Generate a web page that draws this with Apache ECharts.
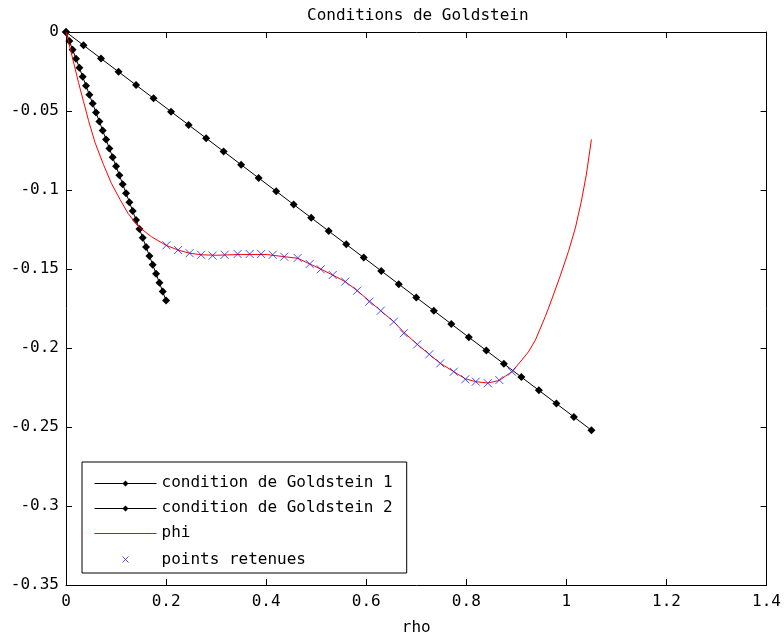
<!DOCTYPE html>
<html>
<head>
<meta charset="utf-8">
<script src="https://cdn.jsdelivr.net/npm/echarts@6/dist/echarts.min.js"></script>
<style>html,body{margin:0;padding:0;background:#fff}#c{width:784px;height:641px}</style>
</head>
<body>
<div id="c"></div>
<script>
var xTicks = [0, 0.2, 0.4, 0.6, 0.8, 1, 1.2, 1.4];
var yTicks = [-0.35, -0.3, -0.25, -0.2, -0.15, -0.1, -0.05, 0];

var g1X = [0, .0067, .0133, .02, .0267, .0333, .04, .0467, .0533, .06, .0667, .0733, .08, .0867, .0933, .1, .1067, .1133, .12, .1267, .1333, .14, .1467, .1533, .16, .1667, .1733, .18, .1867, .1933, .2];
var g1Y = [0, -.0057, -.0113, -.017, -.0227, -.0283, -.034, -.0397, -.0453, -.051, -.0567, -.0623, -.068, -.0737, -.0793, -.085, -.0907, -.0963, -.102, -.1077, -.1133, -.119, -.1247, -.1303, -.136, -.1417, -.1473, -.153, -.1587, -.1643, -.17];

var g2X = [0, .035, .07, .105, .14, .175, .21, .245, .28, .315, .35, .385, .42, .455, .49, .525, .56, .595, .63, .665, .7, .735, .77, .805, .84, .875, .91, .945, .98, 1.015, 1.05];
var g2Y = [0, -.0084, -.0168, -.0252, -.0336, -.042, -.0504, -.0588, -.0672, -.0756, -.084, -.0924, -.1008, -.1092, -.1176, -.126, -.1344, -.1428, -.1512, -.1596, -.168, -.1764, -.1848, -.1932, -.2016, -.21, -.2184, -.2268, -.2352, -.2436, -.252];

var phiX = [0, 0.005, 0.015, 0.025, 0.035, 0.045, 0.058, 0.075, 0.091, 0.108, 0.124, 0.144, 0.171, 0.2, 0.224, 0.247, 0.27, 0.3, 0.35, 0.4, 0.436, 0.463, 0.487, 0.509, 0.533, 0.558, 0.582, 0.606, 0.629, 0.655, 0.675, 0.702, 0.726, 0.748, 0.775, 0.798, 0.819, 0.843, 0.866, 0.891, 0.911, 0.924, 0.938, 0.958, 0.971, 0.987, 1.004, 1.018, 1.03, 1.04, 1.05];
var phiY = [0, -0.006, -0.019, -0.032, -0.044, -0.056, -0.070, -0.084, -0.096, -0.106, -0.1148, -0.123, -0.1296, -0.135, -0.138, -0.140, -0.141, -0.1413, -0.1408, -0.1408, -0.1422, -0.1432, -0.1468, -0.150, -0.1538, -0.158, -0.1637, -0.1702, -0.1764, -0.1834, -0.190, -0.1977, -0.204, -0.2097, -0.215, -0.2195, -0.2213, -0.2222, -0.2205, -0.215, -0.2076, -0.2025, -0.195, -0.180, -0.169, -0.155, -0.139, -0.124, -0.107, -0.090, -0.068];

var ptsX = [0.2007, 0.224, 0.247, 0.270, 0.293, 0.317, 0.343, 0.367, 0.390, 0.413, 0.436, 0.463, 0.487, 0.509, 0.533, 0.558, 0.582, 0.606, 0.629, 0.655, 0.675, 0.702, 0.726, 0.748, 0.775, 0.798, 0.819, 0.843, 0.866, 0.891];
var ptsY = [-0.135, -0.138, -0.140, -0.141, -0.1415, -0.141, -0.1405, -0.1405, -0.1405, -0.141, -0.1422, -0.1430, -0.1468, -0.1502, -0.1538, -0.158, -0.1637, -0.1707, -0.1764, -0.1834, -0.1907, -0.1977, -0.2040, -0.2097, -0.2150, -0.2198, -0.2213, -0.2223, -0.2203, -0.2150];

var names = ['condition de Goldstein 1', 'condition de Goldstein 2', 'phi', 'points retenues'];

function pairs(xs, ys) { return xs.map(function (x, i) { return [x, ys[i]]; }); }

var FONT = 'DejaVu Sans Mono';
var chart = echarts.init(document.getElementById('c'), null, { renderer: 'canvas' });

function xAx(pos, show) {
  return {
    type: 'value', position: pos, min: xTicks[0], max: xTicks[xTicks.length - 1], interval: 0.2,
    axisLine: { show: true, onZero: false, lineStyle: { color: '#000', width: 1 } },
    axisTick: { show: true, inside: true, length: 6, lineStyle: { color: '#000' } },
    axisLabel: { show: show, color: '#000', fontFamily: FONT, fontSize: 16, margin: 9,
      formatter: function (v) { return String(+v.toFixed(2)); } },
    splitLine: { show: false },
    name: show ? 'rho' : '', nameLocation: 'middle', nameGap: 35,
    nameTextStyle: { color: '#000', fontFamily: FONT, fontSize: 16 }
  };
}
function yAx(pos, show) {
  return {
    type: 'value', position: pos, min: yTicks[0], max: yTicks[yTicks.length - 1], interval: 0.05,
    axisLine: { show: true, onZero: false, lineStyle: { color: '#000', width: 1 } },
    axisTick: { show: true, inside: true, length: 6, lineStyle: { color: '#000' } },
    axisLabel: { show: show, color: '#000', fontFamily: FONT, fontSize: 16, margin: 7,
      formatter: function (v) { return String(+v.toFixed(2)); } },
    splitLine: { show: false }
  };
}

var crossPath = 'path://M0,0L10,10M10,0L0,10';
var lineIcon = 'path://M0,0L0,0M62,14L62,14M0,7L62,7L62,8L0,8ZM31,4.5L34,7.5L31,10.5L28,7.5Z';
var phiIcon = 'path://M0,0L0,0M62,14L62,14M0,7L62,7L62,8L0,8Z';
var crossIcon = 'path://M0,0L0,0M62,14L62,14M28,4L34,10M34,4L28,10';

chart.setOption({
  backgroundColor: '#fff',
  animation: false,
  title: {
    text: 'Conditions de Goldstein', left: 302, top: 3,
    textStyle: { color: '#000', fontFamily: FONT, fontSize: 16, fontWeight: 'normal' }
  },
  grid: { left: 66, right: 14, top: 32, bottom: 56, containLabel: false },
  xAxis: [xAx('bottom', true), xAx('top', false)],
  yAxis: [yAx('left', true), yAx('right', false)],
  legend: {
    orient: 'vertical', left: 82, top: 462,
    backgroundColor: '#fff', borderColor: '#000', borderWidth: 1,
    padding: [13, 14, 4, 10], itemWidth: 62, itemHeight: 14, itemGap: 9,
    symbolKeepAspect: true,
    textStyle: { color: '#000', fontFamily: FONT, fontSize: 16 },
    data: [
      { name: names[0], icon: lineIcon, itemStyle: { color: '#000', borderWidth: 0 } },
      { name: names[1], icon: lineIcon, itemStyle: { color: '#000', borderWidth: 0 } },
      { name: names[2], icon: phiIcon, itemStyle: { color: '#ff0000', borderWidth: 0 } },
      { name: names[3], icon: crossIcon, itemStyle: { color: 'none', borderColor: '#2020ff', borderWidth: 1 } }
    ]
  },
  series: [
    {
      name: names[0], type: 'line', data: pairs(g1X, g1Y),
      symbol: 'diamond', symbolSize: [8, 8], showAllSymbol: true,
      lineStyle: { color: '#000', width: 1 }, itemStyle: { color: '#000' }, z: 2
    },
    {
      name: names[1], type: 'line', data: pairs(g2X, g2Y),
      symbol: 'diamond', symbolSize: [8, 8], showAllSymbol: true,
      lineStyle: { color: '#000', width: 1 }, itemStyle: { color: '#000' }, z: 2
    },
    {
      name: names[2], type: 'line', data: pairs(phiX, phiY), showSymbol: false, symbol: 'none',
      lineStyle: { color: '#ff0000', width: 1 }, itemStyle: { color: '#ff0000' }, z: 3
    },
    {
      name: names[3], type: 'scatter', data: pairs(ptsX, ptsY),
      symbol: crossPath, symbolSize: 8,
      itemStyle: { color: 'none', borderColor: '#2020ff', borderWidth: 1 }, z: 4
    }
  ]
});
</script>
</body>
</html>
